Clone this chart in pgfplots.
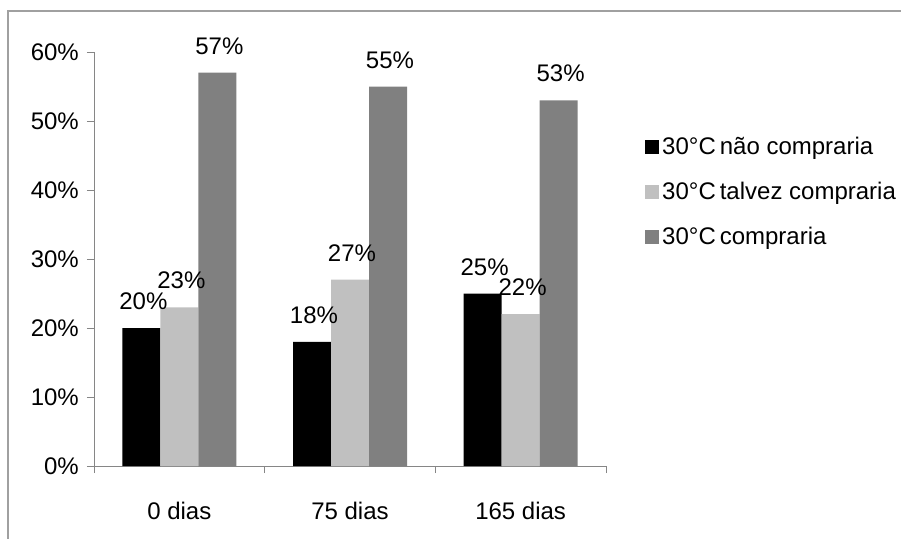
\documentclass[border=0pt]{standalone}
\usepackage{fontspec}
\setmainfont{Liberation Sans}
\usepackage{pgfplots}
\pgfplotsset{compat=1.18}
\definecolor{barblack}{RGB}{0,0,0}
\definecolor{barlight}{RGB}{192,192,192}
\definecolor{bardark}{RGB}{128,128,128}
\definecolor{framegray}{RGB}{160,160,160}
\definecolor{axisgray}{RGB}{134,134,134}

\begin{document}
\fontsize{24bp}{28bp}\selectfont
\begin{tikzpicture}
\useasboundingbox (0,0) rectangle (901bp,-539bp);
% outer chart frame
\draw[framegray, line width=2bp] (8bp,-539bp) -- (8bp,-11bp) -- (901bp,-11bp);
\begin{axis}[
  at={(94bp,-466bp)}, anchor=south west,
  scale only axis, width=512bp, height=414bp,
  ybar=0pt, bar width=38bp,
  xmin=-0.5, xmax=2.5, ymin=0, ymax=60,
  axis x line*=bottom, axis y line*=left,
  axis line style={draw=axisgray, line width=1bp},
  ytick={0,10,...,60},
  yticklabels={0\%,10\%,20\%,30\%,40\%,50\%,60\%},
  xtick={0,1,2},
  xticklabels={0 dias,75 dias,165 dias},
  minor xtick={-0.5,0.5,1.5,2.5},
  tick align=outside,
  major tick length=7bp, minor tick length=7bp,
  tick style={draw=axisgray, line width=1bp},
  major x tick style={draw=none},
  xticklabel style={yshift=-21bp},
  /pgf/number format/assume math mode=true,
  nodes near coords={\pgfmathprintnumber{\pgfplotspointmeta}\%},
  every node near coord/.append style={anchor=south, inner sep=0pt, yshift=18bp, xshift=2bp, black},
  clip=false,
  legend style={at={(1.0762,0.793)}, anchor=north west, draw=none, fill=none,
    inner sep=0pt, row sep=28bp, column sep=3bp,
    nodes={inner sep=0pt, text height=17bp, text depth=0pt, anchor=base west}},
  legend cell align=left,
  legend image code/.code={\fill[#1] (0bp,0.5bp) rectangle (14bp,15bp);},
]
\addplot[fill=barblack, draw=none] coordinates {(0,20) (1,18) (2,25)};
\addplot[fill=barlight, draw=none] coordinates {(0,23) (1,27) (2,22)};
\addplot[fill=bardark, draw=none] coordinates {(0,57) (1,55) (2,53)};
\legend{30°C\,não compraria, 30°C\,talvez compraria, 30°C\,compraria}
\end{axis}
\end{tikzpicture}
\end{document}
